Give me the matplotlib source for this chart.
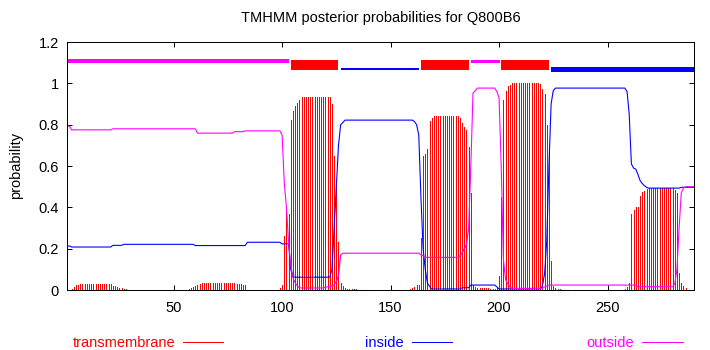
import numpy as np
import matplotlib
matplotlib.use("Agg")
import matplotlib.pyplot as plt
from matplotlib.lines import Line2D

plt.rcParams["font.family"] = ["Liberation Sans", "DejaVu Sans"]

# posterior probabilities per residue, stored as (value, run length)
tm_runs = [
    (0, 2), (0.006, 1), (0.016, 1), (0.023, 1), (0.025, 1), (0.027, 15), (0.02, 2),
    (0.013, 1), (0.01, 1), (0.008, 1), (0.005, 1), (0.004, 1), (0, 28),
    (0.005, 1), (0.008, 1), (0.015, 1), (0.02, 1), (0.025, 1), (0.028, 1),
    (0.033, 16), (0.03, 3), (0.025, 2), (0, 15), (0.008, 1), (0.024, 1),
    (0.26, 1), (0.38, 1), (0.37, 1), (0.824, 1), (0.867, 1), (0.888, 1),
    (0.907, 1), (0.92, 1), (0.932, 14), (0.9, 1), (0.65, 1), (0.5, 1),
    (0.23, 1), (0.035, 1), (0.018, 1), (0.01, 1), (0.005, 5), (0, 24),
    (0.003, 1), (0.008, 1), (0.016, 1), (0.024, 2), (0.25, 1), (0.646, 1),
    (0.657, 1), (0.68, 1), (0.816, 1), (0.832, 1), (0.843, 12), (0.83, 1),
    (0.81, 1), (0.787, 1), (0.775, 1), (0.69, 1), (0.47, 1), (0.024, 1),
    (0.016, 1), (0.01, 6), (0.005, 2), (0.003, 1), (0.01, 1), (0.07, 1),
    (0.45, 1), (0.92, 1), (0.962, 1), (0.985, 1), (0.993, 1), (1.0, 13),
    (0.995, 1), (0.975, 1), (0.95, 1), (0.8, 1), (0.69, 1), (0.14, 1),
    (0.02, 1), (0.01, 1), (0.006, 1), (0.003, 1), (0, 29), (0.005, 1),
    (0.013, 1), (0.035, 1), (0.37, 1), (0.387, 1), (0.403, 2), (0.456, 1),
    (0.472, 1), (0.481, 1), (0.488, 1), (0.493, 12), (0.485, 1), (0.47, 1),
    (0.08, 1), (0.035, 1), (0.02, 1), (0.01, 1), (0, 4),
]
inside_runs = [
    (0.213, 2), (0.208, 19), (0.216, 5), (0.221, 33), (0.215, 24), (0.231, 16),
    (0.223, 4), (0.1, 1), (0.065, 1), (0.062, 17), (0.1, 1), (0.3, 1), (0.5, 1),
    (0.7, 1), (0.8, 1), (0.81, 1), (0.822, 32), (0.815, 1), (0.8, 1), (0.75, 1),
    (0.45, 1), (0.2, 1), (0.1, 1), (0.033, 1), (0.017, 1), (0.005, 14),
    (0.011, 4), (0.024, 12), (0.015, 1), (0.005, 20), (0.02, 1), (0.08, 1),
    (0.24, 1), (0.6, 1), (0.9, 1), (0.965, 1), (0.977, 33), (0.96, 1),
    (0.85, 1), (0.61, 1), (0.59, 1), (0.585, 1), (0.56, 1), (0.53, 1),
    (0.515, 1), (0.505, 1), (0.497, 1), (0.493, 15), (0.497, 7),
]
outside_runs = [
    (0.793, 2), (0.775, 19), (0.78, 39), (0.759, 17), (0.766, 5), (0.77, 17),
    (0.75, 1), (0.52, 1), (0.4, 1), (0.23, 1), (0.12, 1), (0.06, 1), (0.035, 1),
    (0.02, 1), (0.01, 12), (0.015, 3), (0.02, 1), (0.025, 1), (0.04, 1),
    (0.07, 1), (0.17, 1), (0.178, 36), (0.17, 1), (0.165, 1), (0.158, 16),
    (0.165, 1), (0.18, 1), (0.2, 1), (0.22, 1), (0.3, 1), (0.6, 1), (0.953, 1),
    (0.964, 1), (0.977, 9), (0.96, 1), (0.93, 1), (0.6, 1), (0.15, 1),
    (0.05, 1), (0.03, 1), (0.015, 1), (0.008, 14), (0.01, 1), (0.015, 1),
    (0.02, 1), (0.024, 41), (0.016, 17), (0.03, 1), (0.1, 1), (0.3, 1),
    (0.47, 1), (0.493, 1), (0.5, 5),
]

# predicted topology (residue ranges)
tm_segments = [(104, 126), (164, 186), (201, 223)]
inside_segments = [(127, 163), (224, 290)]
outside_segments = [(1, 103), (187, 200)]

seq_len = 290
x_ticks = [50, 100, 150, 200, 250]
y_ticks = [0, 0.2, 0.4, 0.6, 0.8, 1, 1.2]


def expand(runs):
    vals = np.concatenate([np.full(n, v) for v, n in runs])
    assert len(vals) == seq_len, len(vals)
    return vals


residues = np.arange(1, seq_len + 1)
tm = expand(tm_runs)
inside = expand(inside_runs)
outside = expand(outside_runs)

RED, BLUE, MAGENTA = "#ff0000", "#0000ff", "#ff00ff"
px = 0.72  # one pixel in points at dpi 100

fig = plt.figure(figsize=(7.1, 3.5), dpi=100)
ax = fig.add_axes([67.3 / 710, 60 / 350, 627 / 710, 248 / 350])

ax.vlines(residues, 0, tm, color=RED, linewidth=1.0 * px, antialiased=False)
ax.plot(residues, inside, color=BLUE, linewidth=1.1 * px)
ax.plot(residues, outside, color=MAGENTA, linewidth=1.1 * px)

# topology bars along the top
for a, b in tm_segments:
    ax.plot([a, b], [1.09, 1.09], color=RED, linewidth=9.5 * px,
            solid_capstyle="butt", antialiased=False)
for (a, b), w in zip(inside_segments, [1.8, 3.3]):
    ax.plot([a, b], [1.07, 1.07], color=BLUE, linewidth=w * px,
            solid_capstyle="butt", antialiased=False)
for (a, b), w in zip(outside_segments, [2.2, 2.6]):
    ax.plot([a, b], [1.11, 1.11], color=MAGENTA, linewidth=w * px,
            solid_capstyle="butt", antialiased=False)

ax.set_xlim(1, seq_len)
ax.set_ylim(0, 1.2)
ax.set_xticks(x_ticks)
ax.set_yticks(y_ticks)
ax.set_yticklabels([f"{t:g}" for t in y_ticks])
ax.tick_params(direction="in", length=3.6, width=1.0 * px, top=True, right=True,
               labelsize=10.5, colors="black")
ax.tick_params(axis="x", pad=8)
ax.tick_params(axis="y", pad=6)
for s in ax.spines.values():
    s.set_linewidth(1.0 * px)

fig.text(380.8 / 710, 1 - 18 / 350, "TMHMM posterior probabilities for Q800B6",
         ha="center", va="center", fontsize=10.5)
fig.text(16 / 710, 1 - 165 / 350, "probability", rotation=90,
         ha="center", va="center", fontsize=10.5)

# legend along the bottom
legend_items = [("transmembrane", RED, 175, 183, 223),
                ("inside", BLUE, 404, 412, 452),
                ("outside", MAGENTA, 634, 642, 683)]
for label, col, tx, l0, l1 in legend_items:
    fig.text(tx / 710, 1 - 343 / 350, label, color=col, ha="right", va="center",
             fontsize=10.5)
    fig.add_artist(Line2D([l0 / 710, l1 / 710], [1 - 342 / 350] * 2,
                          color=col, linewidth=1.0 * px))

fig.savefig("out.png", dpi=100)
